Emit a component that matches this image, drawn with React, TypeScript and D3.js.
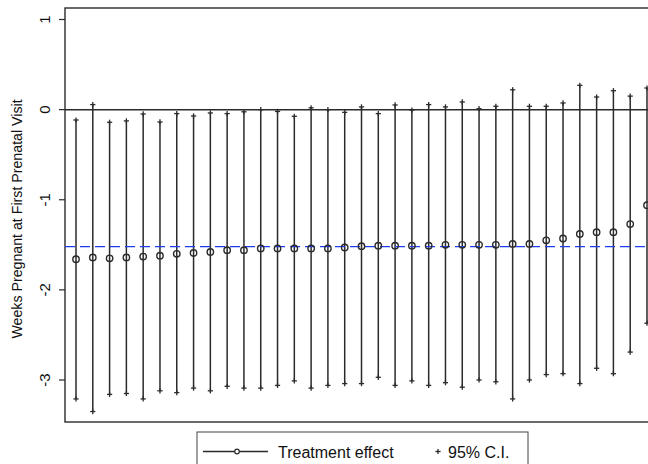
import React from 'react';
import * as d3 from 'd3';

// index of each estimate (sorted by effect size)
const index = d3.range(1, 36);

const effect = [
  -1.66, -1.64, -1.65, -1.64, -1.63, -1.62, -1.60, -1.59, -1.58, -1.56,
  -1.56, -1.54, -1.54, -1.54, -1.54, -1.54, -1.53, -1.515, -1.51, -1.51,
  -1.51, -1.51, -1.50, -1.50, -1.50, -1.50, -1.49, -1.49, -1.45, -1.43,
  -1.38, -1.36, -1.36, -1.27, -1.06,
];

const upper = [
  -0.115, 0.056, -0.14, -0.125, -0.048, -0.137, -0.044, -0.07, -0.037, -0.044,
  -0.024, 0.0, -0.02, -0.074, 0.02, 0.0, -0.03, 0.03, -0.044, 0.052,
  -0.005, 0.056, 0.03, 0.085, 0.01, 0.037, 0.22, 0.037, 0.037, 0.074,
  0.27, 0.14, 0.21, 0.15, 0.24,
];

const lower = [
  -3.21, -3.35, -3.16, -3.15, -3.21, -3.12, -3.14, -3.09, -3.12, -3.07,
  -3.09, -3.09, -3.06, -3.01, -3.09, -3.06, -3.04, -3.04, -2.97, -3.06,
  -3.01, -3.06, -3.03, -3.08, -3.00, -3.02, -3.21, -3.00, -2.94, -2.93,
  -3.04, -2.87, -2.93, -2.69, -2.37,
];

const yTicks = [1, 0, -1, -2, -3];
const meanEffect = -1.52;

const W = 648;
const H = 464;
const plot = { left: 65, top: 8, bottom: 422, right: 700 };

export default function App() {
  const x = d3.scaleLinear().domain([1, 35]).range([76, 647]);
  const y = d3.scaleLinear().domain([-3, 1]).range([380, 19.5]);
  const ink = '#2b2b2b';
  const font = '"Liberation Sans", Arial, Helvetica, sans-serif';

  const plus = (cx: number, cy: number, k: string) => (
    <g key={k} stroke={ink} strokeWidth={1.3}>
      <line x1={cx - 2.6} x2={cx + 2.6} y1={cy} y2={cy} />
      <line x1={cx} x2={cx} y1={cy - 2.6} y2={cy + 2.6} />
    </g>
  );

  return (
    <svg
      width={W}
      height={H}
      viewBox={`0 0 ${W} ${H}`}
      style={{ position: 'absolute', left: 0, top: 0, background: '#fff' }}
      fontFamily={font}
    >
      {/* plot region */}
      <rect
        x={plot.left}
        y={plot.top}
        width={plot.right - plot.left}
        height={plot.bottom - plot.top}
        fill="none"
        stroke={ink}
        strokeWidth={1.4}
      />

      {/* y axis ticks and labels */}
      {yTicks.map((t) => (
        <g key={t}>
          <line x1={plot.left - 6} x2={plot.left} y1={y(t)} y2={y(t)} stroke={ink} strokeWidth={1.2} />
          <text
            transform={`translate(50,${y(t)}) rotate(-90)`}
            textAnchor="middle"
            fontSize={15}
            fill="#111"
          >
            {t}
          </text>
        </g>
      ))}
      <text
        transform={`translate(22,${(plot.top + plot.bottom) / 2 + 4}) rotate(-90)`}
        textAnchor="middle"
        fontSize={14.2}
        fill="#111"
      >
        Weeks Pregnant at First Prenatal Visit
      </text>

      {/* zero line */}
      <line x1={plot.left} x2={W} y1={y(0)} y2={y(0)} stroke={ink} strokeWidth={1.5} />

      {/* confidence intervals */}
      {index.map((d, i) => (
        <line
          key={'ci' + d}
          x1={x(d)}
          x2={x(d)}
          y1={y(lower[i])}
          y2={y(upper[i])}
          stroke={ink}
          strokeWidth={1.5}
        />
      ))}
      {index.map((d, i) => plus(x(d), y(upper[i]), 'u' + d))}
      {index.map((d, i) => plus(x(d), y(lower[i]), 'l' + d))}

      {/* mean effect */}
      <line
        x1={plot.left}
        x2={W}
        y1={y(meanEffect)}
        y2={y(meanEffect)}
        stroke="#1f3cf0"
        strokeWidth={1.4}
        strokeDasharray="10,5"
      />

      {/* point estimates */}
      {index.map((d, i) => (
        <circle
          key={'p' + d}
          cx={x(d)}
          cy={y(effect[i])}
          r={3.2}
          fill="#fff"
          fillOpacity={0}
          stroke={ink}
          strokeWidth={1.4}
        />
      ))}

      {/* legend */}
      <rect x={197} y={432} width={331} height={50} fill="#fff" stroke="#444" strokeWidth={1} />
      <line x1={203} x2={268} y1={451.5} y2={451.5} stroke={ink} strokeWidth={1.3} />
      <circle cx={237} cy={451.5} r={2.3} fill="#fff" stroke={ink} strokeWidth={1.2} />
      <text x={278} y={457.5} fontSize={16} fill="#111">Treatment effect</text>
      {plus(438, 451.5, 'legplus')}
      <text x={448} y={457.5} fontSize={16} fill="#111">95% C.I.</text>
    </svg>
  );
}
